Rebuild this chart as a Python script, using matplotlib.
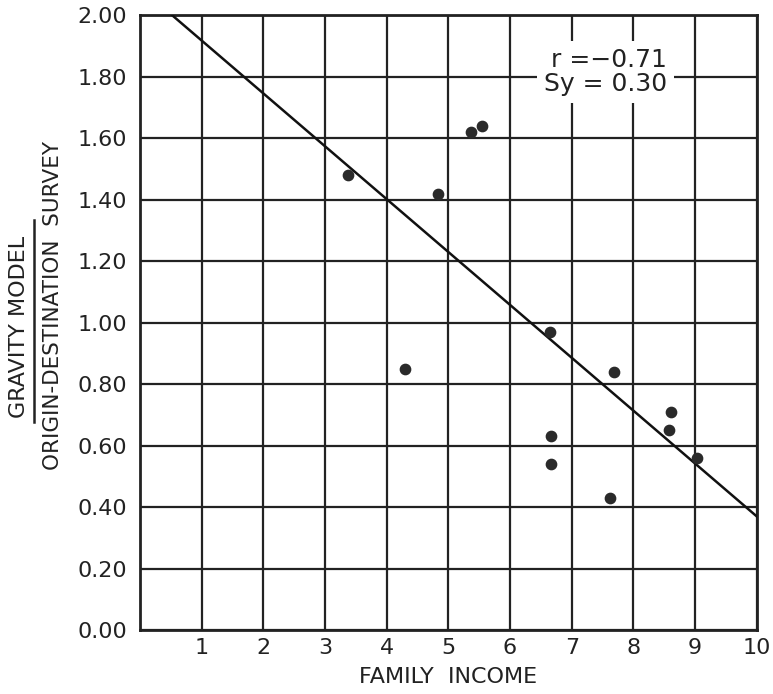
import matplotlib.pyplot as plt
import numpy as np
from matplotlib.lines import Line2D

# dados
renda = [3.37, 4.83, 5.36, 5.54, 4.29, 6.65, 7.68, 6.66, 6.66, 7.62, 8.61, 8.57, 9.03]
razao = [1.48, 1.42, 1.62, 1.64, 0.85, 0.97, 0.84, 0.63, 0.54, 0.43, 0.71, 0.65, 0.56]

# reta de regressao
intercepto = 2.09
inclinacao = -0.172

x_ticks = [1, 2, 3, 4, 5, 6, 7, 8, 9, 10]
x_labels = ['1', '2', '3', '4', '5', '6', '7', '8', '9', '10']
y_ticks = [0.0, 0.2, 0.4, 0.6, 0.8, 1.0, 1.2, 1.4, 1.6, 1.8, 2.0]
y_labels = ['0.00', '0.20', '0.40', '0.60', '0.80', '1.00', '1.20', '1.40', '1.60', '1.80', '2.00']

fig = plt.figure(figsize=(7.73, 6.94), dpi=100)
ax = fig.add_axes([0.181, 0.092, 0.798, 0.886])

ax.set_xlim(0, 10)
ax.set_ylim(0, 2.0)
ax.set_xticks(x_ticks)
ax.set_xticklabels(x_labels, fontsize=16)
ax.set_yticks(y_ticks)
ax.set_yticklabels(y_labels, fontsize=16)
ax.tick_params(axis='y', length=0, pad=9, colors='#222222')
ax.tick_params(axis='x', length=0, pad=6, colors='#222222')
ax.grid(True, color='#222222', linewidth=1.6)
ax.set_axisbelow(True)
for s in ax.spines.values():
    s.set_linewidth(2)
    s.set_color('#222222')

xs = np.array([0, 10])
ax.plot(xs, intercepto + inclinacao * xs, color='#111111', linewidth=1.8, zorder=3)
ax.scatter(renda, razao, s=55, color='#2a2a2a', zorder=4)

ax.text(8.55, 1.815, 'r =\u22120.71\nSy = 0.30', fontsize=18, ha='right', va='center',
        multialignment='right', color='#222222', linespacing=1.0,
        bbox=dict(facecolor='white', edgecolor='none', pad=5), zorder=5)

ax.set_xlabel('FAMILY  INCOME', fontsize=16, labelpad=6, color='#222222')

# rotulo do eixo y em forma de fracao
fig.text(0.024, 0.529, 'GRAVITY MODEL', rotation=90, fontsize=16, ha='center', va='center',
         color='#222222')
fig.add_artist(Line2D([0.044, 0.044], [0.392, 0.683], color='#222222', linewidth=1.8))
fig.text(0.068, 0.56, 'ORIGIN-DESTINATION  SURVEY', rotation=90, fontsize=15.5, ha='center',
         va='center', color='#222222')

fig.savefig('out.png', dpi=100)
